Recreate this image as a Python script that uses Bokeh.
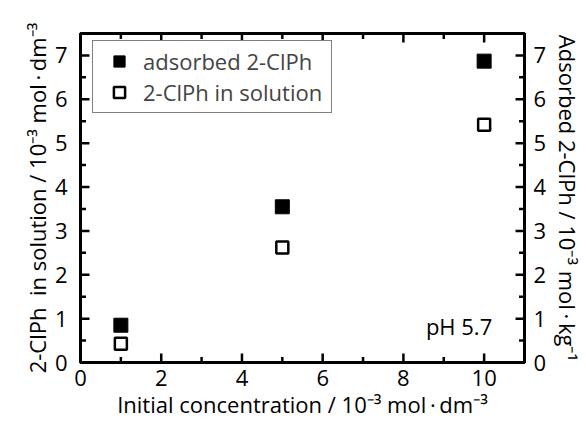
from bokeh.plotting import figure
from bokeh.models import LinearAxis, SingleIntervalTicker, Legend, LegendItem, Label, Range1d
from bokeh.embed import file_html
from bokeh.resources import INLINE

# data
initial_conc = [1, 5, 10]
adsorbed = [0.85, 3.55, 6.87]
in_solution = [0.43, 2.62, 5.42]

# axis ticks
x_major_ticks = [0, 2, 4, 6, 8, 10]
x_minor_ticks = [1, 3, 5, 7, 9]
y_major_ticks = [0, 1, 2, 3, 4, 5, 6, 7]
y_minor_ticks = [0.5, 1.5, 2.5, 3.5, 4.5, 5.5, 6.5]
X_MAX, Y_MAX = 11, 7.5

FONT = "Open Sans"
FS = "22px"

W, H = 586, 421
BL, BR, BT, BB = 80, 60, 33, 59
p = figure(width=W, height=H, output_backend="svg", toolbar_location=None,
           x_range=Range1d(0, X_MAX), y_range=Range1d(0, Y_MAX),
           x_axis_location=None, y_axis_location=None,
           min_border_left=BL, min_border_right=BR, min_border_top=BT, min_border_bottom=BB)
p.grid.visible = False
p.outline_line_color = "black"
p.outline_line_width = 3

def style(ax):
    ax.axis_line_width = 3
    ax.axis_line_color = "black"
    ax.major_tick_in = 0
    ax.major_tick_out = 0
    ax.minor_tick_in = 0
    ax.minor_tick_out = 0
    ax.major_label_text_font = FONT
    ax.major_label_text_font_size = FS
    ax.major_label_text_color = "black"
    ax.axis_label_text_font = FONT
    ax.axis_label_text_font_size = FS
    ax.axis_label_text_font_style = "normal"
    ax.axis_label_text_color = "black"

UNIT = "10\u207b\u00b3 mol\u2009\u00b7\u2009"
xb = LinearAxis(ticker=SingleIntervalTicker(interval=2, num_minor_ticks=2),
                axis_label="Initial concentration / " + UNIT + "dm\u207b\u00b3")
style(xb)
xb.major_label_standoff = 7
xb.axis_label_standoff = 0
p.add_layout(xb, "below")

yl = LinearAxis(ticker=SingleIntervalTicker(interval=1, num_minor_ticks=2),
                axis_label="2-ClPh\u00a0 in solution / " + UNIT + "dm\u207b\u00b3")
style(yl)
yl.major_label_standoff = 13
yl.axis_label_standoff = 0
p.add_layout(yl, "left")

yr = LinearAxis(ticker=SingleIntervalTicker(interval=1, num_minor_ticks=2),
                axis_label="Adsorbed 2-ClPh / " + UNIT + "kg\u207b\u00b9")
style(yr)
yr.major_label_standoff = 9
yr.axis_label_standoff = 4
p.add_layout(yr, "right")

# inward ticks on all four sides, lengths in pixels converted to data units
frame_w = W - BL - BR
frame_h = H - BT - BB
px_x = X_MAX / frame_w
px_y = Y_MAX / frame_h
TW = 2.5
for ticks, L in ((x_major_ticks, 9), (x_minor_ticks, 5.5)):
    n = len(ticks)
    p.segment(ticks, [0] * n, ticks, [L * px_y] * n, line_color="black", line_width=TW)
    p.segment(ticks, [Y_MAX] * n, ticks, [Y_MAX - L * px_y] * n, line_color="black", line_width=TW)
for ticks, L in ((y_major_ticks, 9), (y_minor_ticks, 5.5)):
    n = len(ticks)
    p.segment([0] * n, ticks, [L * px_x] * n, ticks, line_color="black", line_width=TW)
    p.segment([X_MAX] * n, ticks, [X_MAX - L * px_x] * n, ticks, line_color="black", line_width=TW)

r1 = p.scatter(initial_conc, adsorbed, marker="square", size=14,
               fill_color="black", line_color="black", line_width=1)
r2 = p.scatter(initial_conc, in_solution, marker="square", size=12,
               fill_color="white", line_color="black", line_width=2.5)

legend = Legend(items=[LegendItem(label="adsorbed 2-ClPh", renderers=[r1]),
                       LegendItem(label="2-ClPh in solution", renderers=[r2])],
                location=(12, 249), margin=0, padding=5, spacing=1,
                label_text_font=FONT, label_text_font_size=FS,
                glyph_height=28, glyph_width=42, label_height=28, label_width=183,
                label_standoff=3,
                border_line_color="black", border_line_width=1.5,
                background_fill_alpha=1)
p.add_layout(legend)

p.add_layout(Label(x=10.2, y=0.5, text="pH 5.7", text_align="right",
                   text_font=FONT, text_font_size=FS, text_color="black"))

open("out.html", "w").write(file_html(p, INLINE))
